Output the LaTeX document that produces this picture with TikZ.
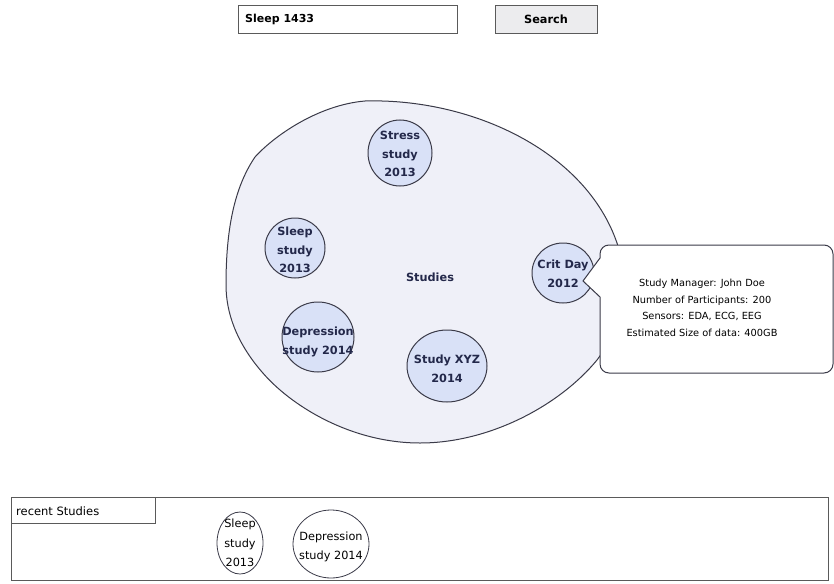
\documentclass[tikz,border=0pt]{standalone}
\usepackage{fontspec}
\setmainfont{DejaVu Sans}
\usetikzlibrary{shapes.geometric}

\definecolor{inkline}{HTML}{3A3A48}
\definecolor{inktext}{HTML}{23284A}
\definecolor{blobfill}{HTML}{EFF0F8}
\definecolor{bubblefill}{HTML}{D9E1F7}
\definecolor{btnfill}{HTML}{ECECEE}
\definecolor{framegray}{HTML}{5A5A5A}

\tikzset{
  uibox/.style={draw=framegray, line width=0.9pt},
  bubble/.style={ellipse, draw=inkline, line width=1pt, fill=bubblefill, inner sep=0pt},
  bubbletext/.style={inner sep=0pt, align=center, text=inktext,
    font=\fontsize{11.3}{18.5}\selectfont\bfseries},
  recentbubble/.style={ellipse, draw=inkline, line width=0.8pt, fill=white, inner sep=0pt},
  recenttext/.style={inner sep=0pt, align=center, text=black,
    font=\fontsize{11.3}{19.5}\selectfont},
  label/.style={inner sep=0pt, text=inktext},
}

\begin{document}
\begin{tikzpicture}[x=1pt,y=-1pt]
\useasboundingbox (0,0) rectangle (834,583);

% search bar
\node[uibox, fill=white, minimum width=219pt, minimum height=28pt, inner sep=0pt]
  (query) at (347.5,19) {};
\node[label, anchor=west, text=black, font=\fontsize{11}{13}\selectfont\bfseries]
  (querytext) at (245,19.5) {Sleep 1433};
\node[uibox, fill=btnfill, minimum width=102pt, minimum height=28pt, inner sep=0pt,
  font=\fontsize{11.3}{13}\selectfont\bfseries]
  (search) at (546,19) {Search};

% studies cloud
\draw[draw=inkline, line width=1pt, fill=blobfill]
  (365,101) .. controls (470,98) and (585,150) .. (617,243)
  .. controls (630,285) and (620,330) .. (597,360)
  .. controls (560,405) and (490,443) .. (420,443)
  .. controls (350,443) and (290,405) .. (262,372)
  .. controls (236,342) and (226,312) .. (226,285)
  .. controls (226,230) and (234,188) .. (255,157)
  .. controls (274,136) and (318,105) .. (365,101)
  -- cycle;
\node[label, font=\fontsize{11.3}{13}\selectfont\bfseries] (studies) at (430,277) {Studies};

\node[bubble, minimum width=64pt, minimum height=66pt] (stress) at (400,153) {};
\node[bubbletext] (stresstext) at (400,154) {Stress\\study\\2013};
\node[bubble, minimum width=60pt, minimum height=60pt] (sleep) at (295,248) {};
\node[bubbletext] (sleeptext) at (295,250) {Sleep\\study\\2013};
\node[bubble, minimum width=72pt, minimum height=70pt] (depression) at (318,337) {};
\node[bubbletext] (depressiontext) at (318,342) {Depression\\study 2014};
\node[bubble, minimum width=80pt, minimum height=72pt] (xyz) at (447,366) {};
\node[bubbletext] (xyztext) at (447,369) {Study XYZ\\2014};
\node[bubble, minimum width=62pt, minimum height=60pt] (crit) at (563,273) {};
\node[bubbletext] (crittext) at (563,274) {Crit Day\\2012};

% detail popup pointing at the selected study
\draw[draw=inkline, line width=1pt, fill=white]
  (583,281) -- (600,297) [rounded corners=9pt] -- (600,373) -- (833,373)
  -- (833,245) -- (600,245) [sharp corners] -- (600,258) -- cycle;
\node[label, align=center, text=black, font=\fontsize{9.8}{16.5}\selectfont]
  (details) at (702,308)
  {Study Manager: John Doe\\Number of Participants: 200\\Sensors: EDA, ECG, EEG\\Estimated Size of data: 400GB};

% recent studies strip
\draw[uibox] (11,497) rectangle (828,580);
\node[uibox, fill=white, minimum width=144pt, minimum height=26pt, inner sep=0pt]
  (recent) at (83,510) {};
\node[label, anchor=west, text=black, font=\fontsize{11.5}{13}\selectfont]
  (recentlabel) at (16,511) {recent Studies};
\node[recentbubble, minimum width=46pt, minimum height=62pt] (recentsleep) at (240,543) {};
\node[recenttext] (recentsleeptext) at (240,543) {Sleep\\study\\2013};
\node[recentbubble, minimum width=76pt, minimum height=68pt] (recentdep) at (331,544) {};
\node[recenttext] (recentdeptext) at (331,547) {Depression\\study 2014};
\end{tikzpicture}
\end{document}
